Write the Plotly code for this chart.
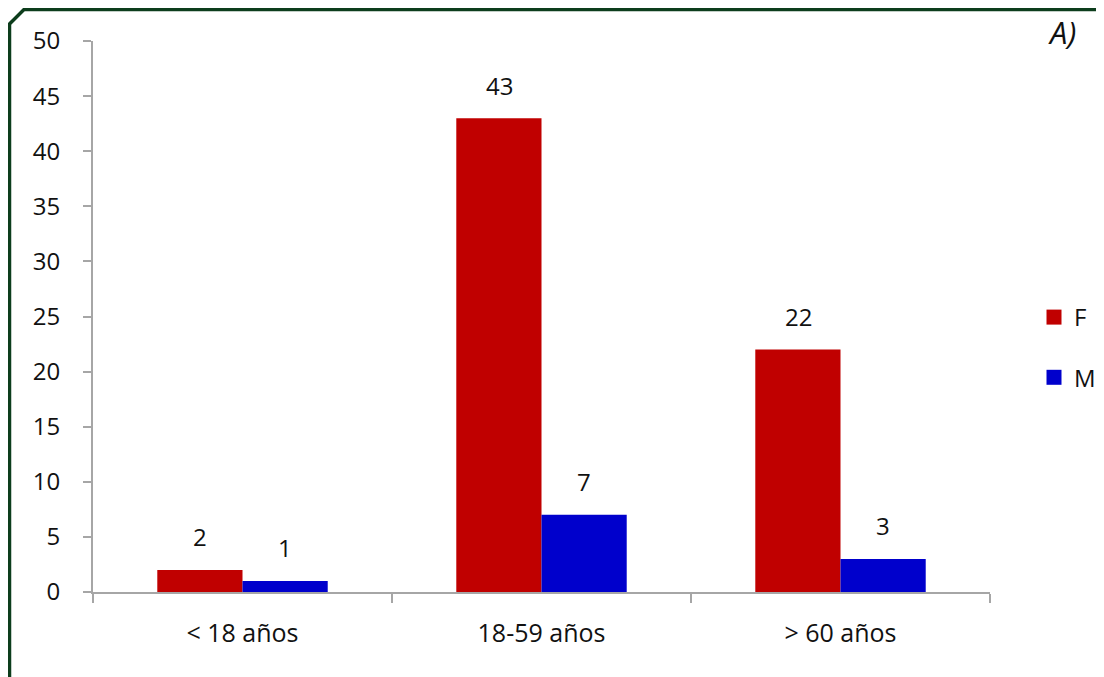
import plotly.graph_objects as go

categories = ["< 18 años", "18-59 años", "> 60 años"]
f_values = [2, 43, 22]
m_values = [1, 7, 3]
y_ticks = [0, 5, 10, 15, 20, 25, 30, 35, 40, 45, 50]

OFF = 8  # page body margin offset
W, H = 1104 - OFF, 677 - OFF
L, R, T, B = 93 - OFF, 990 - OFF, 41 - OFF, 592 - OFF
pw, ph = R - L, B - T

def px(x):
    # x in page pixels -> paper coords
    return (x - OFF - L) / pw

def py(y):
    return (B - (y - OFF)) / ph

FONT = "Open Sans"
TXT = "#111111"

fig = go.Figure()
fig.add_trace(go.Bar(x=categories, y=f_values, name="F", marker_color="#C00000",
                     marker_line_width=0, showlegend=False))
fig.add_trace(go.Bar(x=categories, y=m_values, name="M", marker_color="#0000CC",
                     marker_line_width=0, showlegend=False))
fig.add_trace(go.Scatter(x=[None], y=[None], mode="markers", name="F", legendgroup="F",
                         marker=dict(symbol="square", size=15, color="#C00000")))
fig.add_trace(go.Scatter(x=[None], y=[None], mode="markers", name="M", legendgroup="M",
                         marker=dict(symbol="square", size=15, color="#0000CC")))

annotations = []
for cat, v in zip(categories, f_values):
    annotations.append(dict(x=cat, y=v, text=str(v), showarrow=False, xref="x", yref="y",
                            xshift=-42.5, yshift=33, yanchor="middle",
                            font=dict(family=FONT, size=24, color=TXT)))
for cat, v in zip(categories, m_values):
    annotations.append(dict(x=cat, y=v, text=str(v), showarrow=False, xref="x", yref="y",
                            xshift=42.5, yshift=33, yanchor="middle",
                            font=dict(family=FONT, size=24, color=TXT)))
annotations.append(dict(x=px(1062), y=py(32), xref="paper", yref="paper", text="<i>A)</i>",
                        showarrow=False, xanchor="center", yanchor="middle",
                        font=dict(family=FONT, size=31, color=TXT)))

border = (f"M {px(9.5)} {py(720)} L {px(9.5)} {py(24)} L {px(24)} {py(9.5)} L {px(1130)} {py(9.5)}")

fig.update_layout(
    width=W, height=H,
    margin=dict(l=L, r=W - R, t=T, b=H - B, pad=0, autoexpand=False),
    paper_bgcolor="white", plot_bgcolor="white",
    barmode="group", bargap=0.43, bargroupgap=0,
    font=dict(family=FONT, size=24, color=TXT),
    showlegend=True,
    legend=dict(x=px(1034), y=py(295), xanchor="left", yanchor="top",
                font=dict(family=FONT, size=24, color=TXT),
                tracegroupgap=26, bgcolor="rgba(0,0,0,0)", itemwidth=30),
    annotations=annotations,
    shapes=[dict(type="path", path=border, xref="paper", yref="paper",
                 line=dict(color="#0d3d1c", width=3.5), layer="above")],
    xaxis=dict(showline=True, linecolor="#a6a6a6", linewidth=2,
               ticks="outside", tickson="boundaries", ticklen=9, tickwidth=2,
               tickcolor="#a6a6a6", ticklabelstandoff=18, showgrid=False,
               tickfont=dict(family=FONT, size=25, color=TXT)),
    yaxis=dict(range=[0, 50], tickvals=y_ticks, showline=True, linecolor="#a6a6a6",
               linewidth=2, ticks="outside", ticklen=8, tickwidth=2, tickcolor="#a6a6a6",
               showgrid=False, zeroline=False, ticklabelstandoff=18,
               tickfont=dict(family=FONT, size=24, color=TXT)),
)

fig.write_html("out.html")
